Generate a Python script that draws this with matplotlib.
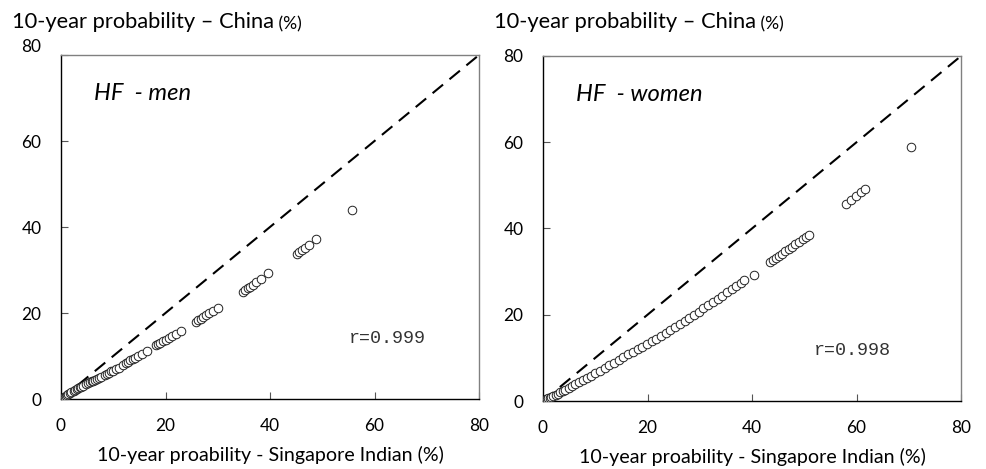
import matplotlib
matplotlib.use("Agg")
import matplotlib.pyplot as plt
from matplotlib.transforms import ScaledTranslation

# ---------------- data ----------------
men_x = [0.1, 0.3, 0.5, 0.7, 0.9, 1.1, 1.4, 1.7, 2.0, 2.4,
         2.7, 3.0, 3.3, 3.6, 3.9, 4.3, 4.7, 5.2,
         5.6, 5.9, 6.2, 6.5, 6.8, 7.2, 7.7,
         8.4, 8.8, 9.2, 9.6, 10.0, 10.5, 11.1, 11.9,
         12.4, 12.8, 13.2, 13.7, 14.2, 14.8, 15.5, 16.5,
         18.2, 18.6, 19.0, 19.5, 20.0, 20.6, 21.3, 22.0, 22.9,
         25.8, 26.2, 26.7, 27.2, 27.7, 28.3, 29.0, 30.0,
         34.8, 35.2, 35.7, 36.2, 36.8, 37.4, 38.2, 39.6,
         45.2, 45.6, 46.1, 46.7, 47.4, 48.8,
         55.7]
men_y = [0.1, 0.25, 0.4, 0.55, 0.7, 0.85, 1.05, 1.3, 1.55, 1.85,
         2.1, 2.3, 2.5, 2.7, 2.9, 3.1, 3.4, 3.7,
         3.9, 4.1, 4.3, 4.5, 4.7, 4.9, 5.2,
         5.6, 5.9, 6.1, 6.4, 6.6, 6.9, 7.3, 7.9,
         8.4, 8.7, 9.0, 9.3, 9.6, 10.0, 10.5, 11.2,
         12.5, 12.8, 13.1, 13.4, 13.8, 14.2, 14.7, 15.2, 15.9,
         18.0, 18.3, 18.7, 19.1, 19.5, 19.9, 20.4, 21.2,
         25.0, 25.3, 25.7, 26.1, 26.6, 27.1, 27.8, 29.2,
         33.8, 34.1, 34.6, 35.1, 35.7, 37.2,
         43.9]

women_x = [0.2, 0.4, 0.6, 0.8, 1.0, 1.3, 1.6, 2.0, 2.4, 2.8, 3.3, 3.8, 4.3, 4.9,
           5.5, 6.2, 6.9, 7.6, 8.4, 9.2, 10.0, 10.9, 11.8, 12.7, 13.6, 14.5,
           15.4, 16.3, 17.2, 18.1, 19.0, 19.9, 20.8, 21.7, 22.6, 23.5, 24.4,
           25.3, 26.2, 27.1, 28.0, 28.9, 29.8, 30.7, 31.6, 32.5, 33.4, 34.3,
           35.2, 36.1, 37.0, 37.8, 38.5,
           40.3,
           43.4, 44.0, 44.6, 45.2, 45.8, 46.4, 47.0, 47.6, 48.3, 49.0, 49.7, 50.4, 51.0,
           58.0, 59.0, 59.9, 60.8, 61.6,
           70.4]
women_y = [0.12, 0.24, 0.36, 0.48, 0.6, 0.79, 0.97, 1.2, 1.45, 1.7, 2.0, 2.3, 2.65, 3.0,
           3.45, 3.9, 4.35, 4.85, 5.35, 5.9, 6.4, 7.0, 7.65, 8.25, 8.9, 9.55,
           10.2, 10.8, 11.4, 12.0, 12.55, 13.15, 13.8, 14.45, 15.15, 15.85, 16.55,
           17.25, 17.95, 18.65, 19.35, 20.05, 20.75, 21.5, 22.25, 23.0, 23.7, 24.45,
           25.2, 26.0, 26.75, 27.4, 28.0,
           29.3,
           32.2, 32.7, 33.2, 33.7, 34.2, 34.7, 35.2, 35.7, 36.3, 36.9, 37.5, 38.0, 38.4,
           45.6, 46.6, 47.6, 48.4, 49.2,
           58.9]

ticks = [0, 20, 40, 60, 80]
identity = [0, 80]
panel_labels = ["HF  - men", "HF  - women"]
r_labels = ["r=0.999", "r=0.998"]
r_pos = [(55.1, 14.0), (51.9, 11.6)]
ylab = "10-year probability \u2013 China"
ylab_unit = "(%)"
xlab = "10-year proability - Singapore Indian (%)"

# ---------------- figure ----------------
FONT = "Lato"
plt.rcParams["font.family"] = [FONT, "DejaVu Sans"]

fig = plt.figure(figsize=(9.87, 4.69), dpi=100)
renderer = fig.canvas.get_renderer()


def fit_size(text, target_px, family=None, style="normal", start=12.0):
    """Font size whose rendered width matches target_px."""
    kw = {"fontsize": start, "style": style}
    if family:
        kw["family"] = family
    t = fig.text(0, 0, text, **kw)
    w = t.get_window_extent(renderer).width
    t.remove()
    return start * target_px / w


title_fs = fit_size(ylab, 261)
unit_fs = title_fs * 0.8
xlab_fs = fit_size(xlab, 344)
tick_fs = fit_size("80", 20)
hf_fs = fit_size(panel_labels[0], 97, style="italic")
r_fs = fit_size(r_labels[0], 77, family="Liberation Mono")

ax1 = fig.add_axes([61 / 987, 70 / 469, 418 / 987, 344 / 469])
ax2 = fig.add_axes([543 / 987, 68 / 469, 418 / 987, 345 / 469])

datasets = [(men_x, men_y), (women_x, women_y)]
for i, (ax, (xs, ys)) in enumerate(zip([ax1, ax2], datasets)):
    ax.plot(identity, identity, color="black", lw=1.5, dashes=(6.5, 4), zorder=2)
    ax.scatter(xs, ys, s=38, facecolors="white", edgecolors="#222222",
               linewidths=0.7, zorder=3)
    ax.set_xlim(0, 80)
    ax.set_ylim(0, 80)
    ax.set_xticks(ticks)
    ax.set_yticks(ticks)
    ax.tick_params(direction="in", length=5, width=0.8, color="#555555",
                   labelsize=tick_fs, pad=14)
    ax.tick_params(axis="x", pad=14)
    for s in ["left", "bottom"]:
        ax.spines[s].set_color("black")
        ax.spines[s].set_linewidth(1.0)
    for s in ["top", "right"]:
        ax.spines[s].set_color("#808080")
        ax.spines[s].set_linewidth(1.0)
    ax.set_xlabel(xlab, fontsize=xlab_fs, labelpad=8)
    ax.text(6.4, 71.0, panel_labels[i], fontsize=hf_fs, style="italic",
            va="center", ha="left")
    ax.text(r_pos[i][0], r_pos[i][1], r_labels[i], fontsize=r_fs,
            family="Liberation Mono", color="#333333", va="center", ha="left")

# shift top y tick label of left panel upward slightly
fig.canvas.draw()
for lab in ax1.get_yticklabels():
    if lab.get_text() == "80":
        lab.set_transform(lab.get_transform() +
                          ScaledTranslation(0, 7 / 72, fig.dpi_scale_trans))

# y-axis titles at top-left of each panel
for xpix in [12, 494]:
    t = fig.text(xpix / 987, 1 - 28 / 469, ylab, fontsize=title_fs,
                 va="baseline", ha="left")
    fig.add_artist(plt.Annotation(" " + ylab_unit, xy=(1, 0), xycoords=t,
                                  va="bottom", ha="left", fontsize=unit_fs))

fig.savefig("out.png", dpi=100)
